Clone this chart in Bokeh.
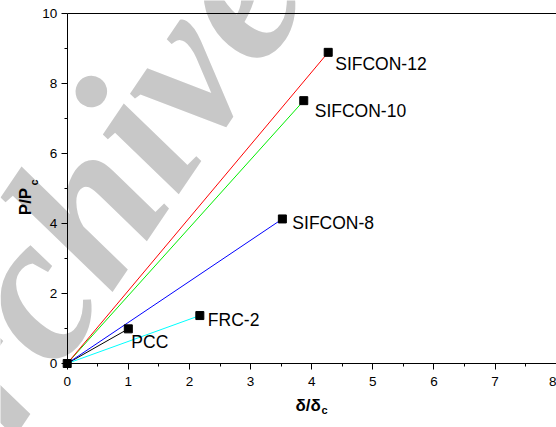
import math
from bokeh.plotting import figure
from bokeh.models import ColumnDataSource, FixedTicker, LinearAxis
from bokeh.core.properties import value
from bokeh.embed import file_html
from bokeh.resources import INLINE

# ---- data ----
names = ["PCC", "FRC-2", "SIFCON-8", "SIFCON-10", "SIFCON-12"]
x_vals = [1.00, 2.17, 3.52, 3.87, 4.27]
y_vals = [0.99, 1.37, 4.13, 7.51, 8.89]
colors = ["black", "cyan", "blue", "#00ee00", "red"]
x_ticks = [0, 1, 2, 3, 4, 5, 6, 7, 8]
y_ticks = [0, 2, 4, 6, 8, 10]

# label offsets (pixels)
lab_dx = [3, 8, 10, 11, 7]
lab_dy = [13, 4, 4, 10, 12]

FONT = "Liberation Sans"
W, H = 556, 427
X0, XS = 66.7, 61.125   # pixel of x=0, pixels per unit
Y0, YS = 363.0, 35.0    # pixel of y=0, pixels per unit

def dx(px):
    return (px - X0) / XS

def dy(py):
    return (Y0 - py) / YS

p = figure(width=W, height=H, output_backend="svg", toolbar_location=None,
           x_range=(dx(0), dx(W)), y_range=(dy(H), dy(0)),
           min_border=0, x_axis_type=None, y_axis_type=None)
p.grid.visible = False
p.outline_line_color = None
p.background_fill_color = "white"
p.border_fill_color = "white"

# watermark
p.text([dx(64)], [dy(236)], text=["Archive"], angle=math.radians(56),
       text_font=value("Liberation Serif"), text_font_style="bold italic",
       text_font_size="210px", text_color="#c8c8c8",
       text_align="center", text_baseline="middle")

for xv, yv, c in zip(x_vals, y_vals, colors):
    p.line([0, xv], [0, yv], line_color=c, line_width=1)

src = ColumnDataSource(dict(x=[0] + x_vals, y=[0] + y_vals))
p.scatter("x", "y", source=src, marker="square", size=8, fill_color="black", line_color="black")

lsrc = ColumnDataSource(dict(x=x_vals, y=y_vals, t=names, dx=lab_dx, dy=lab_dy))
p.text("x", "y", text="t", source=lsrc, x_offset="dx", y_offset="dy",
       text_font=value(FONT), text_font_size="17.5px", text_color="black",
       text_baseline="alphabetic", text_align="left")

def make_axis(ticks, loc, bounds, standoff):
    ax = LinearAxis(fixed_location=loc, bounds=bounds)
    ax.ticker = FixedTicker(ticks=ticks, minor_ticks=[t + 0.5 * (ticks[1] - ticks[0]) for t in ticks])
    ax.major_tick_in = 0
    ax.major_tick_out = 6
    ax.minor_tick_in = 0
    ax.minor_tick_out = 3
    ax.axis_line_color = "black"
    ax.major_tick_line_color = "black"
    ax.minor_tick_line_color = "black"
    ax.major_label_text_font = FONT
    ax.major_label_text_font_size = "13.5px"
    ax.major_label_text_color = "black"
    ax.major_label_standoff = standoff
    return ax

p.add_layout(make_axis(x_ticks, 0, (0, 8), 7), "below")
p.add_layout(make_axis(y_ticks, 0, (0, 10), 4), "left")

top = LinearAxis(fixed_location=10, bounds=(0, 8), major_tick_out=0, major_tick_in=0,
                 minor_tick_out=0, minor_tick_in=0, major_label_text_font_size="0px",
                 axis_line_color="black")
top.ticker = FixedTicker(ticks=[])
p.add_layout(top, "above")

def txt(px, py, s, size, align="left", angle=0.0):
    p.text([dx(px)], [dy(py)], text=[s], angle=angle, text_font=value(FONT),
           text_font_style="bold", text_font_size=size, text_color="black",
           text_align=align, text_baseline="alphabetic")

txt(295, 405, "δ/δ", "17px")
txt(321, 409, "c", "11px")
txt(25, 201, "P/P", "17px", align="center", angle=math.pi / 2)
txt(33, 185, "c", "11px", angle=math.pi / 2)

open("out.html", "w").write(file_html(p, INLINE))
